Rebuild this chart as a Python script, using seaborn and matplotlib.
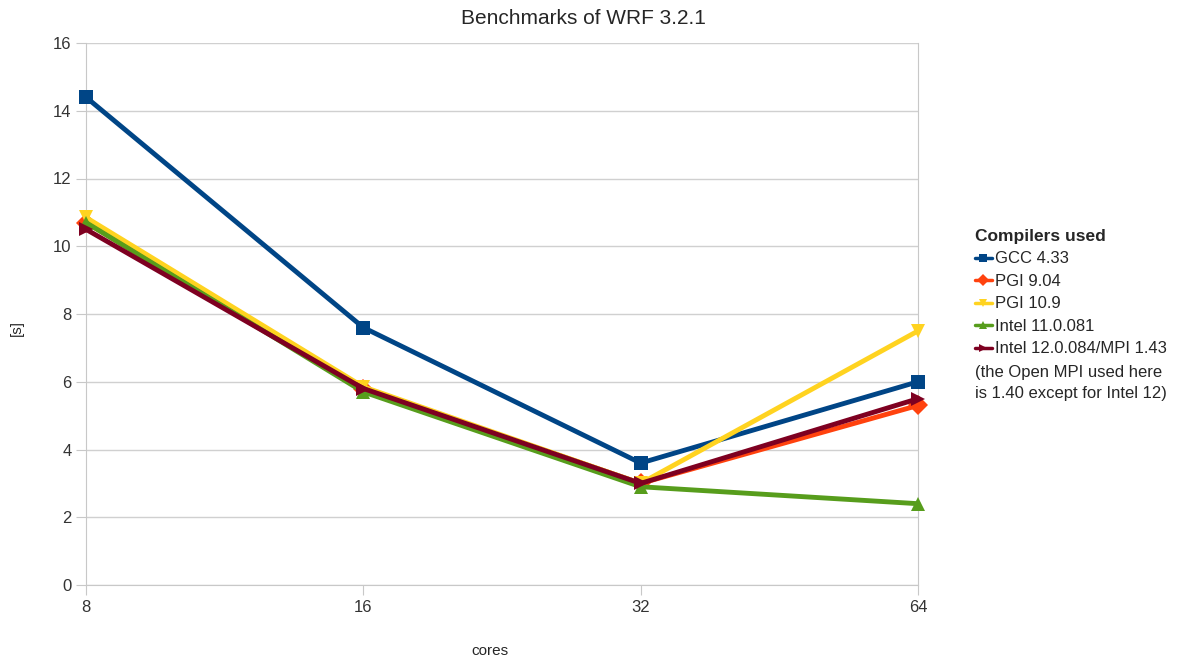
import pandas as pd
import seaborn as sns
import matplotlib.pyplot as plt

cores = ["8", "16", "32", "64"]
gcc_433 = [14.4, 7.6, 3.6, 6.0]
pgi_904 = [10.7, 5.8, 3.0, 5.3]
pgi_109 = [10.85, 5.85, 3.0, 7.5]
intel_11 = [10.7, 5.7, 2.9, 2.4]
intel_12 = [10.5, 5.8, 3.0, 5.5]

series = {
    "GCC 4.33": gcc_433,
    "PGI 9.04": pgi_904,
    "PGI 10.9": pgi_109,
    "Intel 11.0.081": intel_11,
    "Intel 12.0.084/MPI 1.43": intel_12,
}
colors = ["#004586", "#ff420e", "#ffd320", "#579d1c", "#7e0021"]
markers = ["s", "D", "v", "^", ">"]

rows = []
for name, vals in series.items():
    for c, v in zip(cores, vals):
        rows.append({"cores": c, "time": v, "compiler": name})
df = pd.DataFrame(rows)

sns.set_style("white")
plt.rcParams["font.family"] = ["Liberation Sans", "DejaVu Sans"]

fig = plt.figure(figsize=(11.89, 6.59), dpi=100)
ax = fig.add_axes([86 / 1189, 1 - 585 / 659, (918 - 86) / 1189, (585 - 43) / 659])

sns.lineplot(data=df, x="cores", y="time", hue="compiler", style="compiler",
             palette=colors, markers=markers, dashes=False, linewidth=3.5,
             markersize=10, markeredgewidth=0, ax=ax, sort=False)
for line in ax.get_lines():
    line.set_clip_on(False)
    line.set_zorder(3)

ax.set_ylim(0, 16)
ax.set_yticks(range(0, 17, 2))
ax.set_xlim(0, 3)
ax.grid(axis="y", color="#d0d0d0", linewidth=1)
ax.set_axisbelow(True)
for s in ax.spines.values():
    s.set_color("#c8c8c8")
ax.spines["top"].set_visible(False)
ax.tick_params(axis="both", bottom=True, left=True, length=7, color="#c8c8c8",
               labelsize=12, labelcolor="#333333")
ax.set_xlabel("")
ax.set_ylabel("")

fig.text(583 / 1189, 1 - 18 / 659, "Benchmarks of WRF 3.2.1", ha="center", va="center", fontsize=15)
fig.text(490 / 1189, 1 - 651 / 659, "cores", ha="center", va="center", fontsize=11)
fig.text(17 / 1189, 1 - 328 / 659, "[s]", ha="center", va="center", fontsize=11, rotation=90)

ax.legend_.remove()
handles, labels = ax.get_legend_handles_labels()
leg = fig.legend(handles, labels, loc="upper left", bbox_to_anchor=(960 / 1189, 1 - 214 / 659),
                 frameon=False, title="Compilers used", fontsize=12, handlelength=1.0,
                 handletextpad=0.2, labelspacing=0.45, alignment="left")
leg.get_title().set_fontweight("bold")
leg.get_title().set_fontsize(12.5)
for line in leg.get_lines():
    line.set_linewidth(2.5)
    line.set_markersize(6)
fig.text(975 / 1189, 1 - 383 / 659, "(the Open MPI used here\nis 1.40 except for Intel 12)",
         ha="left", va="center", fontsize=12, linespacing=1.45)

fig.savefig("out.png", dpi=100)
